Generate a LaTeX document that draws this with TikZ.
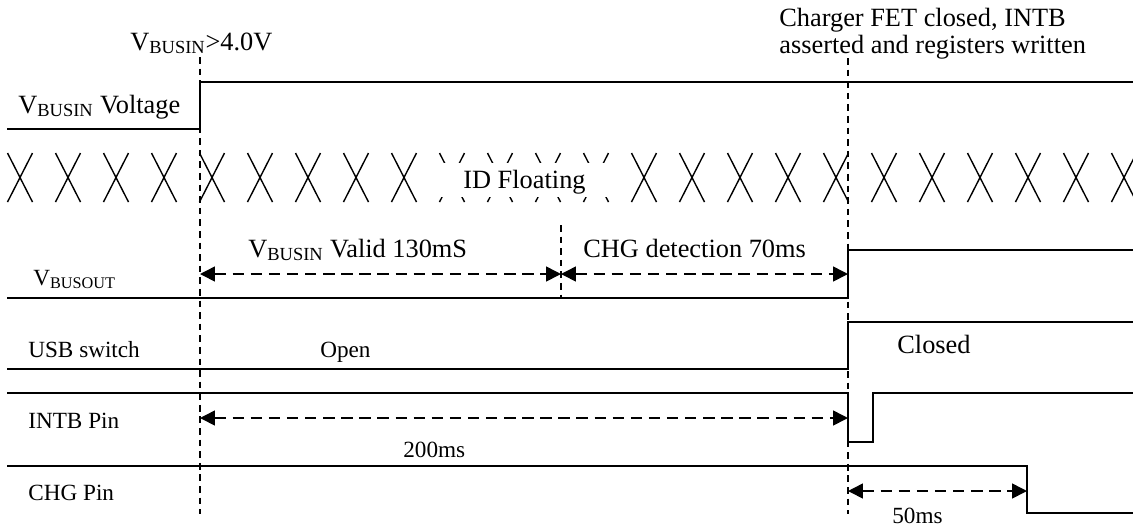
\documentclass[tikz,border=0pt]{standalone}
\usepackage{fontspec}
\setmainfont{Liberation Serif}
\usetikzlibrary{arrows.meta}

\begin{document}
\begin{tikzpicture}[x=0.02cm,y=-0.02cm,
    wave/.style={line width=0.85pt},
    cross/.style={line width=0.8pt},
    guide/.style={line width=0.7pt,dash pattern=on 3.8pt off 2.8pt},
    span/.style={{Triangle[length=8.5pt,width=8.5pt]}-{Triangle[length=8.5pt,width=8.5pt]},line width=0.9pt,dash pattern=on 6.5pt off 3.8pt},
    small/.style={font=\fontsize{13.2}{15}\selectfont,inner sep=0pt,anchor=base west},
    large/.style={font=\fontsize{15}{17}\selectfont,inner sep=0pt,anchor=base west}]
    \useasboundingbox (0,0) rectangle (1133,529);
    % ID line: crossings, hidden behind the label in the middle
    \foreach \k in {0,...,23}
      \draw[cross] ({20+48*\k-12.5},153) -- ({20+48*\k+12.5},202)
                   ({20+48*\k+12.5},153) -- ({20+48*\k-12.5},202);
    \fill[white] (437,163) rectangle (612,197);
    \node[large] (idf) at (463,188) {ID Floating};
    % time markers
    \draw[guide] (200,57) coordinate (t0) -- (200,514);
    \draw[guide] (848,58) coordinate (t2) -- (848,514);
    \draw[guide] (561,225) coordinate (t1) -- (561,298);
    % waveforms
    \draw[wave] (7,129) -- (200,129) -- (200,82) -- (1133,82);
    \draw[wave] (7,298) -- (848,298) -- (848,250) -- (1133,250);
    \draw[wave] (7,369) -- (848,369) -- (848,322) -- (1133,322);
    \draw[wave] (7,393) -- (848,393) -- (848,442) -- (873,442) -- (873,393) -- (1133,393);
    \draw[wave] (7,466) -- (1027,466) -- (1027,513) -- (1133,513);
    % intervals
    \coordinate (vA) at (200,274);
    \coordinate (vB) at (561,274);
    \coordinate (vC) at (848,274);
    \coordinate (iA) at (200,418);
    \coordinate (iB) at (848,418);
    \coordinate (cA) at (848,491);
    \coordinate (cB) at (1027,491);
    \draw[span] (vA) -- (vB);
    \draw[span] (vB) -- (vC);
    \draw[span] (iA) -- (iB);
    \draw[span] (cA) -- (cB);
    % labels
    \node[large] (vin) at (130,50) {V\textsubscript{BUSIN}>4.0V};
    \node[large] (fet1) at (779,26) {Charger FET closed, INTB};
    \node[large] (fet2) at (779,53) {asserted and registers written};
    \node[large] (vbusin) at (18,113) {V\textsubscript{BUSIN} Voltage};
    \node[small] (vbusout) at (33,285) {V\textsubscript{BUSOUT}};
    \node[large] (valid) at (248,257) {V\textsubscript{BUSIN} Valid 130mS};
    \node[large] (det) at (583,257) {CHG detection 70ms};
    \node[small] (usb) at (28,357) {USB switch};
    \node[small] (open) at (320,357) {Open};
    \node[large] (closed) at (897,353) {Closed};
    \node[small] (intb) at (28,428) {INTB Pin};
    \node[small] (t200) at (403,457) {200ms};
    \node[small] (chg) at (28,500) {CHG Pin};
    \node[small] (t50) at (892,523) {50ms};
\end{tikzpicture}
\end{document}
